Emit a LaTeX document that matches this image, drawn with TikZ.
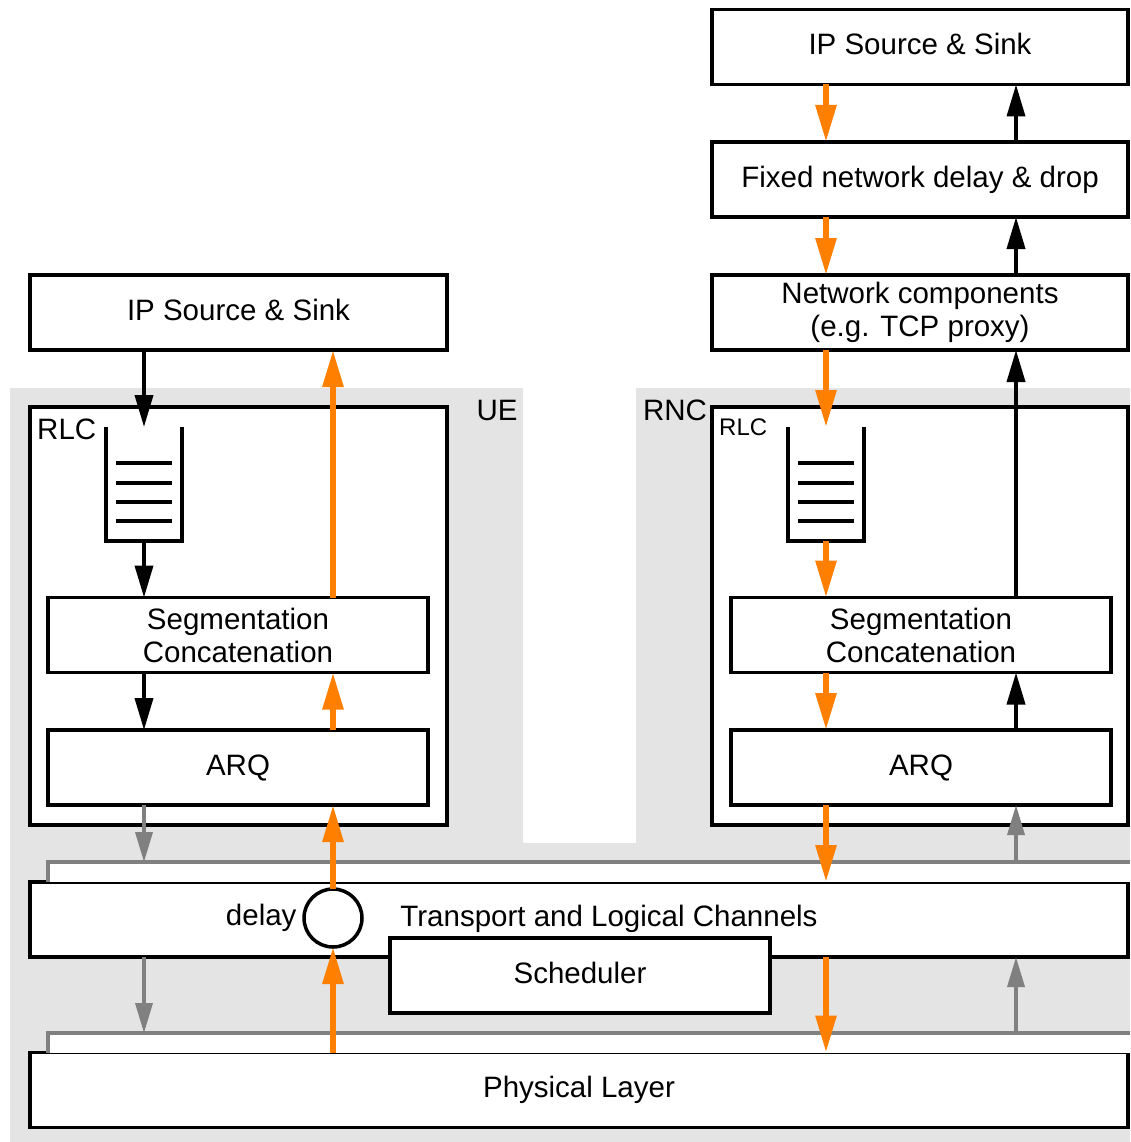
\documentclass[tikz,border=0pt]{standalone}
\usepackage{fontspec}
\setmainfont{Liberation Sans}
\usetikzlibrary{arrows.meta}
\definecolor{umtsorange}{HTML}{FF8000}
\definecolor{umtsgray}{HTML}{808080}
\definecolor{umtsbg}{HTML}{E4E4E4}

\begin{document}
\begin{tikzpicture}[x=1pt,y=-1pt,font=\fontsize{29.5}{33}\selectfont]
\tikzset{
% Boxes for the layers and the two RLC frames
layer box/.style={draw,line width=3.5pt,fill=white,outer sep=0pt,inner sep=0pt,align=center,
  minimum height=75pt,text height=22pt,text depth=7pt},
two lines/.style={text height={},text depth={}},
frame box/.style={draw,line width=3.5pt,fill=white,outer sep=0pt,minimum width=417pt,minimum height=418pt},
% Arrows for the flows
black arrow/.style={line width=3.8pt,-{Triangle[length=32pt,width=18pt]}},
orange arrow/.style={draw=umtsorange,line width=6pt,-{Triangle[length=37pt,width=20pt]}},
gray arrow/.style={draw=umtsgray,line width=3.6pt,-{Triangle[length=30pt,width=17pt]}},
channel line/.style={draw=umtsgray,line width=3.6pt},
queue line/.style={line width=3.5pt}
}
\useasboundingbox (0,0) rectangle (1130,1142);
% Grey background of UE and RNC
\fill[umtsbg] (10,388) -- (523,388) -- (523,843) -- (636,843) -- (636,388)
  -- (1130,388) -- (1130,1142) -- (10,1142) -- cycle;
% Columns of the arrows
\coordinate (colA) at (144,0);
\coordinate (colB) at (333,0);
\coordinate (colC) at (826,0);
\coordinate (colD) at (1016,0);
\coordinate (edgeR) at (1130,0);

% UE side
\node[layer box,minimum width=417pt] (ipL) at (238.5,312.5) {IP Source \& Sink};
\node[frame box] (rlcL) at (238.5,616) {};
\node[layer box,two lines,minimum width=380pt] (segL) at (238,635) {Segmentation\\Concatenation};
\node[layer box,minimum width=380pt] (arqL) at (238,767.5) {ARQ};
\node[inner sep=0pt] (ueLabel) at (497,410) {UE};
\node[anchor=west,inner sep=0pt] (rlcLabelL) at (37,429) {RLC};

% RNC side
\node[layer box,minimum width=416pt] (ipR) at (920,47) {IP Source \& Sink};
\node[layer box,minimum width=416pt] (fixed) at (920,179.5) {Fixed network delay \& drop};
\node[layer box,two lines,minimum width=416pt] (netc) at (920,312.5) {Network components\\(e.g. TCP proxy)};
\node[frame box,minimum width=416pt] (rlcR) at (920,616) {};
\node[layer box,two lines,minimum width=380pt] (segR) at (921,635) {Segmentation\\Concatenation};
\node[layer box,minimum width=380pt] (arqR) at (921,767.5) {ARQ};
\node[inner sep=0pt] (rncLabel) at (675,410) {RNC};
\node[anchor=west,inner sep=0pt,font=\fontsize{24}{28}\selectfont] (rlcLabelR) at (719,427) {RLC};

% Queues
\coordinate (qLtop) at (144,427);
\coordinate (qLbot) at (144,541);
\coordinate (qRtop) at (826,427);
\coordinate (qRbot) at (826,541);
\foreach \qx in {106,788}{
  \draw[queue line] (\qx,427) |- (\qx+76,541) -- (\qx+76,427);
  \foreach \qy in {463,483,502,521}
    \draw[queue line] (\qx+10,\qy) -- (\qx+66,\qy);
}

% Channels
\coordinate (chanA) at (48,862);
\coordinate (chanB) at (48,1033);
\node[layer box,minimum width=1098pt] (trans) at (579,919.5) {};
\node[layer box,minimum width=380pt] (sched) at (580,975.5) {Scheduler};
\node[layer box,minimum width=1098pt] (phy) at (579,1090) {Physical Layer};
\node[inner sep=0pt] (transLabel) at (609,919) {Transport and Logical Channels};
\fill[white] (chanA) rectangle (trans.north -| edgeR);
\draw[channel line] (trans.north -| chanA) |- (chanA -| edgeR);
\fill[white] (chanB) rectangle (phy.north -| edgeR);
\draw[channel line] (phy.north -| chanB) |- (chanB -| edgeR);
\node[circle,draw,fill=white,line width=3.5pt,minimum size=58pt,inner sep=0pt,outer sep=0pt,
  label={[name=delayLabel,xshift=-4pt]left:delay}] (delay) at (333,918) {};

% Arrows on the UE side
\draw[black arrow] (ipL.south -| colA) -- (qLtop);
\draw[black arrow] (qLbot) -- (segL.north -| colA);
\draw[black arrow] (segL.south -| colA) -- (arqL.north -| colA);
\draw[gray arrow] (arqL.south -| colA) -- (chanA -| colA);
\draw[gray arrow] (trans.south -| colA) -- (chanB -| colA);
\draw[orange arrow] (segL.north -| colB) -- (ipL.south -| colB);
\draw[orange arrow] (arqL.north -| colB) -- (segL.south -| colB);
\draw[orange arrow] (delay.north) -- (arqL.south -| colB);
\draw[orange arrow] (phy.north -| colB) -- (delay.south);

% Arrows on the RNC side
\draw[orange arrow] (ipR.south -| colC) -- (fixed.north -| colC);
\draw[orange arrow] (fixed.south -| colC) -- (netc.north -| colC);
\draw[orange arrow] (netc.south -| colC) -- (qRtop);
\draw[orange arrow] (qRbot) -- (segR.north -| colC);
\draw[orange arrow] (segR.south -| colC) -- (arqR.north -| colC);
\draw[orange arrow] (arqR.south -| colC) -- (trans.north -| colC);
\draw[orange arrow] (trans.south -| colC) -- (phy.north -| colC);
\draw[black arrow] (fixed.north -| colD) -- (ipR.south -| colD);
\draw[black arrow] (netc.north -| colD) -- (fixed.south -| colD);
\draw[black arrow] (segR.north -| colD) -- (netc.south -| colD);
\draw[black arrow] (arqR.north -| colD) -- (segR.south -| colD);
\draw[gray arrow] (chanA -| colD) -- (arqR.south -| colD);
\draw[gray arrow] (chanB -| colD) -- (trans.south -| colD);
\end{tikzpicture}
\end{document}
